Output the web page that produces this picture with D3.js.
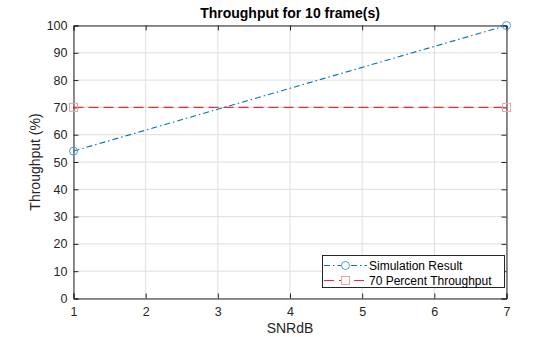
<!DOCTYPE html>
<html><head><meta charset="utf-8">
<script src="https://cdn.jsdelivr.net/npm/d3@7"></script>
<style>body{margin:0;background:#fff}svg{display:block;font-family:"Liberation Sans",Arial,Helvetica,sans-serif}</style>
</head><body><svg id="c" width="560" height="337"></svg>
<script>
const snr = [1, 7];
const throughput = [54, 100];
const targetX = [1, 7];
const targetY = [70, 70];
const xTicks = [1, 2, 3, 4, 5, 6, 7];
const yTicks = [0, 10, 20, 30, 40, 50, 60, 70, 80, 90, 100];
const seriesNames = ["Simulation Result", "70 Percent Throughput"];
const titleText = "Throughput for 10 frame(s)";
const xLabel = "SNRdB";
const yLabel = "Throughput (%)";

const svg = d3.select("#c");
const L = 73.5, R = 506.5, T = 25.5, B = 298.5;
const x = d3.scaleLinear().domain([1, 7]).range([L, R]);
const y = d3.scaleLinear().domain([0, 100]).range([B, T]);
const blue = "#0072BD", red = "#F22B2B";

// grid
svg.append("g").selectAll("line").data(xTicks).join("line")
  .attr("x1", d => x(d)).attr("x2", d => x(d)).attr("y1", T).attr("y2", B)
  .attr("stroke", "#dedede").attr("stroke-width", 1);
svg.append("g").selectAll("line").data(yTicks).join("line")
  .attr("y1", d => y(d)).attr("y2", d => y(d)).attr("x1", L).attr("x2", R)
  .attr("stroke", "#dedede").attr("stroke-width", 1);

// axes
const ax = svg.append("g").attr("transform", `translate(0,${B})`)
  .call(d3.axisBottom(x).tickValues(xTicks).tickSize(-5).tickPadding(9).tickFormat(d3.format("d")));
const ay = svg.append("g").attr("transform", `translate(${L},0)`)
  .call(d3.axisLeft(y).tickValues(yTicks).tickSize(-5).tickPadding(6).tickFormat(d3.format("d")));
const axT = svg.append("g").attr("transform", `translate(0,${T})`)
  .call(d3.axisTop(x).tickValues(xTicks).tickSize(-5).tickFormat(""));
const ayR = svg.append("g").attr("transform", `translate(${R},0)`)
  .call(d3.axisRight(y).tickValues(yTicks).tickSize(-5).tickFormat(""));
[ax, ay, axT, ayR].forEach(g => {
  g.select(".domain").attr("stroke", "#262626");
  g.selectAll(".tick line").attr("stroke", "#262626");
  g.selectAll("text").attr("fill", "#262626").style("font-size", "12.5px").style("font-family", "Liberation Sans, Arial, sans-serif");
});

// red target line
svg.append("path").datum(targetX.map((d, i) => [d, targetY[i]]))
  .attr("d", d3.line().x(d => x(d[0])).y(d => y(d[1])))
  .attr("fill", "none").attr("stroke", red).attr("stroke-width", 1.3).attr("stroke-dasharray", "10,5");
svg.append("g").selectAll("rect").data(targetX.map((d, i) => [d, targetY[i]])).join("rect")
  .attr("x", d => x(d[0]) - 4).attr("y", d => y(d[1]) - 4).attr("width", 8).attr("height", 8)
  .attr("fill", "none").attr("stroke", "#f4a0a2").attr("stroke-width", 1);

// blue simulation line
svg.append("path").datum(snr.map((d, i) => [d, throughput[i]]))
  .attr("d", d3.line().x(d => x(d[0])).y(d => y(d[1])))
  .attr("fill", "none").attr("stroke", blue).attr("stroke-width", 1.1).attr("stroke-dasharray", "6,3,1.5,3");
svg.append("g").selectAll("circle").data(snr.map((d, i) => [d, throughput[i]])).join("circle")
  .attr("cx", d => x(d[0])).attr("cy", d => y(d[1])).attr("r", 4)
  .attr("fill", "none").attr("stroke", "#4a9ad6").attr("stroke-width", 1);

// title and labels
svg.append("text").attr("x", (L + R) / 2).attr("y", 17.5).attr("text-anchor", "middle")
  .attr("font-weight", "bold").attr("font-size", "14px").attr("fill", "#000").text(titleText);
svg.append("text").attr("x", (L + R) / 2).attr("y", 333).attr("text-anchor", "middle")
  .attr("font-size", "14px").attr("fill", "#262626").text(xLabel);
svg.append("text").attr("transform", `translate(40,${(T + B) / 2}) rotate(-90)`).attr("text-anchor", "middle")
  .attr("font-size", "14px").attr("fill", "#262626").text(yLabel);

// legend
const lg = svg.append("g");
lg.append("rect").attr("x", 322.5).attr("y", 255.5).attr("width", 182).attr("height", 32)
  .attr("fill", "#fff").attr("stroke", "#262626").attr("stroke-width", 1);
const rows = [
  { name: seriesNames[0], color: blue, dash: "6,3,1.5,3", mk: "circle" },
  { name: seriesNames[1], color: red, dash: "10,5", mk: "square" }
];
rows.forEach((r, i) => {
  const yy = 265.5 + i * 15;
  lg.append("line").attr("x1", 324).attr("x2", 367).attr("y1", yy).attr("y2", yy)
    .attr("stroke", r.color).attr("stroke-dasharray", r.dash);
  if (r.mk === "circle") lg.append("circle").attr("cx", 345.5).attr("cy", yy).attr("r", 4)
    .attr("fill", "#fff").attr("stroke", "#4a9ad6");
  else lg.append("rect").attr("x", 341.5).attr("y", yy - 4).attr("width", 8).attr("height", 8)
    .attr("fill", "#fff").attr("stroke", "#f4a0a2");
  lg.append("text").attr("x", 369).attr("y", yy + 4.5).attr("font-size", "12px").attr("fill", "#000").text(r.name);
});
</script></body></html>
